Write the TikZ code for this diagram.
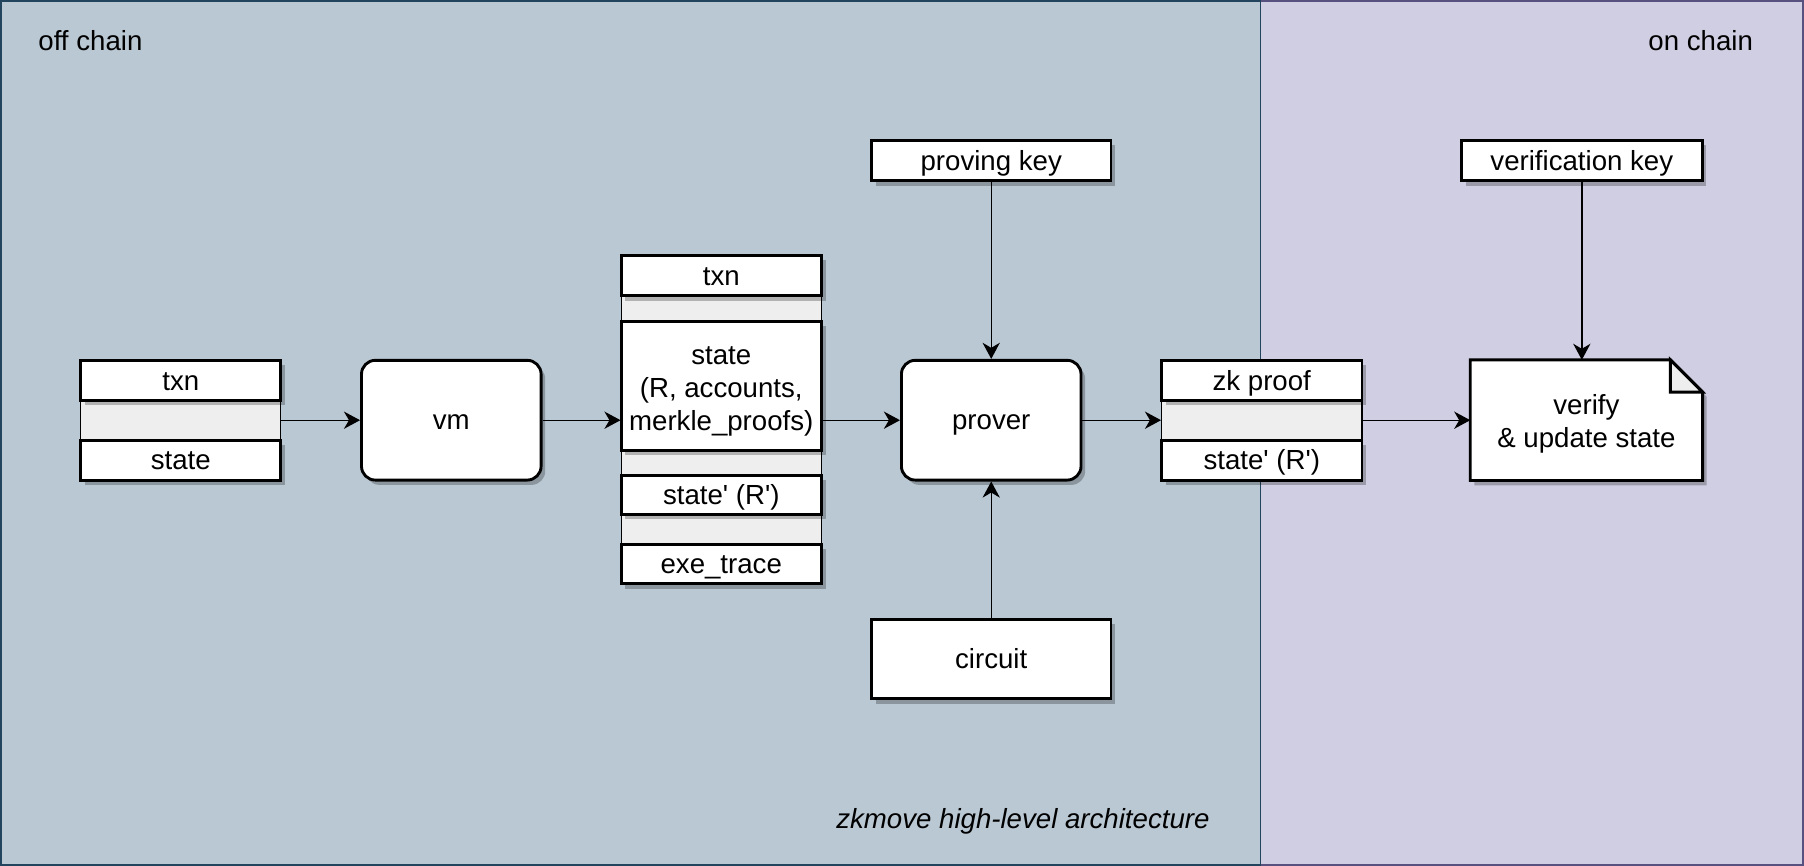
\documentclass[tikz,border=0pt]{standalone}
\usepackage{fontspec}
\setmainfont{Liberation Sans}
\usetikzlibrary{arrows.meta,shadows}
\definecolor{offfill}{HTML}{BAC8D3}
\definecolor{offline}{HTML}{23445D}
\definecolor{onfill}{HTML}{D0CEE2}
\definecolor{online}{HTML}{56517E}
\definecolor{band}{HTML}{EEEEEE}
\newcommand{\myq}{\textquotesingle}
\begin{document}
\begin{tikzpicture}[x=0.5pt,y=-0.5pt,
  every node/.style={font=\fontsize{12}{14.4}\selectfont, inner sep=0pt},
  shad/.style={drop shadow={shadow xshift=1.8pt, shadow yshift=-2.1pt, opacity=0.25, fill=black}},
  box/.style={draw=black, fill=white, line width=1.25pt, shad, text height=10pt, text depth=1.5pt},
  mbox/.style={draw=black, fill=white, line width=1.25pt, shad},
  rbox/.style={box, rounded corners=6pt},
  stackc/.style={draw=black, fill=band, line width=0.5pt},
  conn/.style={line width=0.6pt, -{Stealth[length=7pt,width=7.5pt,inset=2.2pt]}},
]
\useasboundingbox (0,0) rectangle (1567,752.2);
% panels
\draw[fill=onfill, draw=online, line width=0.7pt] (1095,1) rectangle (1566,751.2);
\draw[fill=offfill, draw=offline, line width=0.7pt] (1,1) rectangle (1095,751.2);
\node[anchor=base west] (offl) at (33,44) {off chain};
\node[anchor=base east] (onl) at (1523,44) {on chain};
\node[anchor=base east, font=\fontsize{12}{14.4}\selectfont\itshape] (cap) at (1051,720) {zkmove high-level architecture};

% left stack
\node[stackc, minimum width=87pt, minimum height=52pt] (s1) at (157,365) {};
\node[box, minimum width=87pt, minimum height=17.33pt] (s1a) at (157,330.33) {txn};
\node[box, minimum width=87pt, minimum height=17.33pt] (s1b) at (157,399.67) {state};

% vm
\node[rbox, minimum width=78pt, minimum height=52pt] (vm) at (392,365) {vm};

% middle stack
\node[stackc, minimum width=87pt, minimum height=142.5pt] (m) at (626.5,365) {};
\node[box, minimum width=87pt, minimum height=17.5pt] (m1) at (626.5,239.5) {txn};
\node[mbox, minimum width=87pt, minimum height=56pt] (m2) at (626.5,335) {};
\node[align=center] (m2t) at ([yshift=-2.5pt]m2.center) {state\\(R, accounts,\\merkle\_proofs)};
\node[box, minimum width=87pt, minimum height=17pt] (m3) at (626.5,430) {state\myq{} (R\myq)};
\node[box, minimum width=87pt, minimum height=17pt] (m4) at (626.5,490) {exe\_trace};

% prover, keys, circuit
\node[rbox, minimum width=78pt, minimum height=52pt] (prover) at (861,365) {prover};
\node[box, minimum width=104pt, minimum height=17.5pt] (pk) at (861,139.5) {proving key};
\node[box, minimum width=104pt, minimum height=34.5pt] (circ) at (861,572.5) {circuit};

% zk stack
\node[stackc, minimum width=87pt, minimum height=52pt] (zk) at (1096,365) {};
\node[box, minimum width=87pt, minimum height=17.33pt] (zk1) at (1096,330.33) {zk proof};
\node[box, minimum width=87pt, minimum height=17.33pt] (zk2) at (1096,399.67) {state\myq{} (R\myq)};

% note
\node[minimum width=100.5pt, minimum height=52pt] (note) at (1378,365) {};
\path[draw=black, fill=white, line width=1.25pt, shad] (note.north west) -- ([xshift=-14pt]note.north east) -- ([yshift=-14pt]note.north east) -- (note.south east) -- (note.south west) -- cycle;
\draw[fill=band, line width=1.25pt] ([xshift=-14pt]note.north east) -- ([xshift=-14pt,yshift=-14pt]note.north east) -- ([yshift=-14pt]note.north east) -- cycle;
\node[align=center] (notetext) at ([yshift=-1.5pt]note.center) {verify\\\& update state};
\node[box, minimum width=104.5pt, minimum height=17.5pt] (vk) at (1374,139.5) {verification key};

% connectors
\draw[conn] (s1) -- (vm);
\draw[conn] (vm) -- (m);
\draw[conn] (m) -- (prover);
\draw[conn] (prover) -- (zk);
\draw[conn] (zk) -- (note);
\draw[conn] (pk) -- (prover);
\draw[conn] (circ) -- (prover);
\draw[conn] (vk.south) -- (vk.south |- note.north);
\end{tikzpicture}
\end{document}
